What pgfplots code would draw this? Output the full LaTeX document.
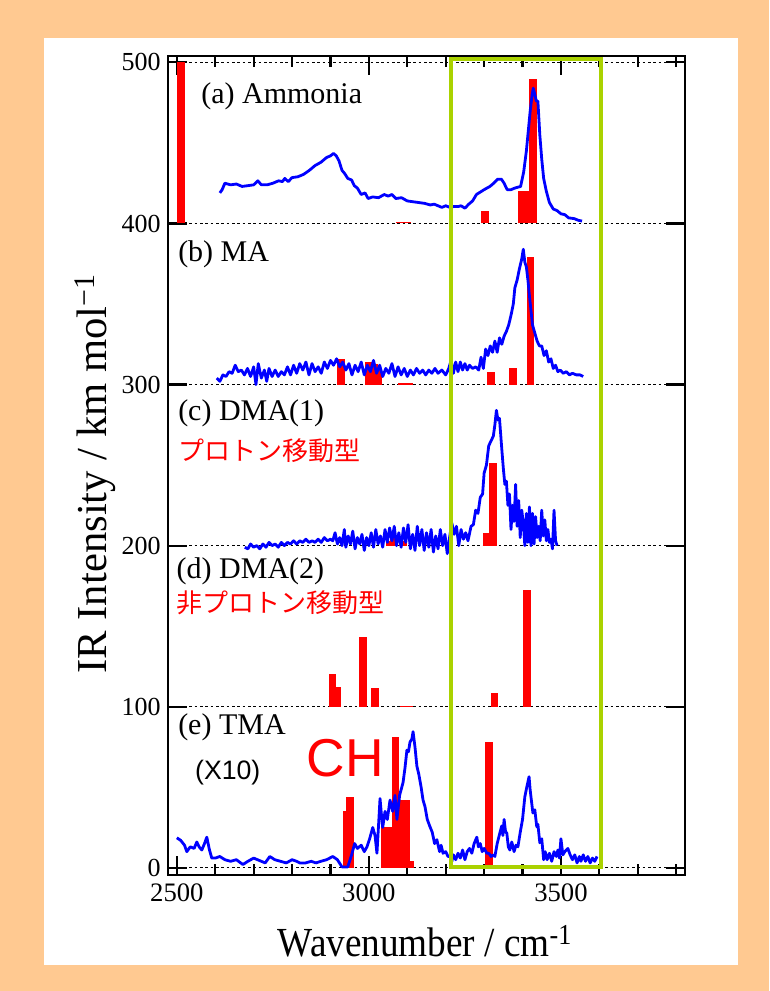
\documentclass[border=0pt]{standalone}
\usepackage{pgfplots}
\pgfplotsset{compat=1.18}
\usepackage{fontspec}
\setmainfont{Liberation Serif}
\newfontfamily\cjk{Noto Sans CJK JP}
\newfontfamily\sans{Liberation Sans}
\definecolor{bgorange}{RGB}{255,201,145}
\definecolor{boxgreen}{RGB}{170,210,0}
\pgfplotsset{
  calc bars/.style={draw=none, mark=none, forget plot,
    error bars/.cd, y dir=plus, y explicit, error mark=none,
    error bar style={draw=red, solid, line width=5.8pt}},
  expt/.style={blue, line width=2.1pt, mark=none, line join=round},
}
\begin{document}
\begin{tikzpicture}
\fill[bgorange] (0pt,0pt) rectangle (576.75pt,743.25pt);
\fill[white] (33pt,19.5pt) rectangle (553.5pt,714.75pt);
\begin{axis}[
  at={(126pt,87pt)}, anchor=south west, scale only axis,
  width=387.75pt, height=614.25pt,
  xmin=2477, xmax=3823, ymin=-4.5, ymax=504,
  xtick={2500,3000,3500},
  minor xtick={2600,2700,2800,2900,3100,3200,3300,3400,3600,3700,3800},
  ytick={0,100,200,300,400,500},
  tick align=inside, major tick length=14pt, minor tick length=8pt,
  axis line style={line width=2pt},
  tick style={draw=black, line width=1.6pt},
  ymajorgrids, grid style={black, line width=0.6pt, dash pattern=on 2pt off 2pt},
  yticklabel={\fontsize{19.5}{19.5}\selectfont\pgfmathprintnumber[assume math mode=true]{\tick}},
  xticklabel={\fontsize{20}{20}\selectfont\pgfmathprintnumber[assume math mode=true, set thousands separator={}]{\tick}},
  yticklabel style={xshift=-2pt},
  xticklabel style={yshift=-3pt},
  xlabel={\scalebox{0.9}[1]{Wavenumber / cm\textsuperscript{-1}}},
  xlabel style={at={(axis description cs:0.497,-0.099)}, anchor=base, font=\fontsize{31}{31}\selectfont},
  ylabel={IR Intensity / km mol\textsuperscript{−1}},
  ylabel style={at={(axis description cs:-0.141,0.49)}, anchor=center, font=\fontsize{32}{32}\selectfont},
]
% calculated bands (bars from each panel's baseline)
\addplot[calc bars] coordinates {
  (2510,400) +- (0,100) (3080,400) +- (0,1) (3100,400) +- (0,1)
  (3303,400) +- (0,7.5) (3398,400) +- (0,20) (3410,400) +- (0,20)
  (3428,400) +- (0,90)
};
\addplot[calc bars] coordinates {
  (2927,300) +- (0,16) (3000,300) +- (0,14) (3014,300) +- (0,13)
  (3024,300) +- (0,9) (3085,300) +- (0,1) (3105,300) +- (0,1)
  (3317,300) +- (0,7.5) (3375,300) +- (0,10.5) (3421,300) +- (0,79)
};
\addplot[calc bars] coordinates {
  (3055,200) +- (0,3) (3066,200) +- (0,5.5) (3088,200) +- (0,3)
  (3308,200) +- (0,8) (3323,200) +- (0,51)
};
\addplot[calc bars] coordinates {
  (2905,100) +- (0,20.5) (2917,100) +- (0,12.4) (2985,100) +- (0,43.5)
  (3015,100) +- (0,11.8) (3090,100) +- (0,0.6) (3105,100) +- (0,0.6)
  (3327,100) +- (0,8.7) (3412,100) +- (0,72.7)
};
\addplot[calc bars] coordinates {
  (2942,0) +- (0,35) (2950,0) +- (0,44) (3042,0) +- (0,25) (3055,0) +- (0,25)
  (3069,0) +- (0,81) (3088,0) +- (0,42) (3097,0) +- (0,42) (3108,0) +- (0,4)
  (3312,0) +- (0,78)
};
% (a) Ammonia
\addplot[expt] coordinates {
  (2612,419) (2618,421) (2625,425) (2640,424) (2655,424.5) (2670,423) (2685,423.5)
  (2700,424) (2711,426.5) (2720,424) (2735,424) (2750,425) (2765,426.5) (2775,426)
  (2781,428) (2790,426) (2800,428.5) (2815,429) (2830,430.5) (2845,433) (2860,436)
  (2875,438) (2890,441) (2900,442) (2908,443.5) (2915,442) (2922,439) (2930,433)
  (2937,431) (2945,428) (2955,427) (2962,423.5) (2970,422) (2980,418) (2990,419)
  (2998,415.5) (3010,416.5) (3025,416) (3040,418) (3050,417) (3060,418) (3070,415.5)
  (3085,416) (3100,414) (3115,413.5) (3130,413) (3145,412.5) (3160,411.5) (3170,412)
  (3180,411) (3190,410) (3200,411) (3211,410) (3220,410.5) (3232,410.5) (3240,411)
  (3250,409.5) (3260,412) (3270,414) (3280,418) (3290,419.5) (3300,421) (3315,423)
  (3325,425) (3335,427.5) (3345,427.5) (3352,425) (3360,421) (3370,421) (3380,422)
  (3395,423) (3403,432) (3410,445) (3416,460) (3420,470) (3425,480) (3428,484)
  (3432,480) (3436,476) (3440,476) (3445,455) (3450,440) (3455,428) (3462,420)
  (3470,413) (3480,409) (3490,408) (3500,406) (3510,405.5) (3520,403.5) (3535,403)
  (3545,402) (3555,401.5)
};
% (b) MA
\addplot[expt] coordinates {
  (2604,304) (2612,302) (2620,306) (2628,305) (2636,308) (2644,307) (2652,312)
  (2660,308) (2668,309) (2676,306) (2684,310) (2692,305) (2700,311) (2706,300)
  (2712,313) (2720,304) (2728,309) (2734,302) (2740,310) (2748,305) (2756,309)
  (2764,305) (2772,308) (2780,306) (2788,311) (2796,306) (2804,312) (2812,307)
  (2820,313) (2828,309) (2836,314) (2844,306) (2852,313) (2860,308) (2868,311)
  (2876,307) (2884,314) (2892,310) (2900,315) (2908,312) (2916,316) (2924,311)
  (2932,314) (2940,309) (2948,313) (2956,306) (2964,312) (2972,308) (2980,314)
  (2988,306) (2996,312) (3004,308) (3012,315) (3020,307) (3028,312) (3036,305)
  (3044,310) (3052,307) (3060,313) (3068,305) (3076,311) (3084,306) (3092,310)
  (3100,305) (3108,309) (3116,306) (3124,310) (3132,307) (3140,309) (3148,306)
  (3156,309) (3164,307) (3172,310) (3180,307) (3190,309) (3200,306) (3208,310)
  (3214,315) (3220,307) (3226,314) (3232,308) (3238,314) (3244,309) (3250,313)
  (3256,309) (3262,312) (3270,310) (3278,311) (3286,309) (3292,317) (3298,310)
  (3304,322) (3310,318) (3316,324) (3322,320) (3328,327) (3334,320) (3340,329)
  (3346,325) (3352,330) (3358,333) (3364,337) (3370,343) (3376,350) (3380,360)
  (3386,365) (3392,372) (3398,378) (3402,384) (3406,376) (3410,373) (3414,365)
  (3418,355) (3422,346) (3426,337) (3432,332) (3438,327) (3444,324) (3450,324)
  (3456,318) (3462,321) (3468,314) (3474,316) (3480,310) (3486,312) (3492,308)
  (3498,309) (3506,307) (3514,308) (3522,306) (3530,307) (3540,306) (3550,306)
  (3558,305)
};
% (c) DMA(1)
\addplot[expt] coordinates {
  (2677,199) (2685,198) (2692,201) (2700,199) (2708,200) (2716,198) (2724,201)
  (2732,199) (2740,202) (2748,200) (2756,201) (2764,199) (2772,202) (2780,200)
  (2788,202) (2796,201) (2804,203) (2812,201) (2820,203) (2828,202) (2836,204)
  (2844,202) (2852,203) (2860,202) (2868,204) (2876,202) (2884,205) (2892,203)
  (2900,204) (2906,203) (2912,208) (2918,201) (2924,205) (2930,200) (2936,210)
  (2940,199) (2946,206) (2952,201) (2958,209) (2964,198) (2970,205) (2976,201)
  (2982,207) (2988,197) (2994,205) (3000,200) (3006,208) (3012,199) (3018,210)
  (3024,201) (3030,206) (3036,199) (3042,210) (3048,202) (3054,211) (3060,203)
  (3066,212) (3072,200) (3078,208) (3084,199) (3090,211) (3096,202) (3102,213)
  (3108,198) (3114,207) (3120,197) (3126,212) (3132,200) (3138,210) (3144,197)
  (3150,208) (3156,199) (3162,210) (3168,196) (3174,206) (3180,198) (3186,210)
  (3192,200) (3198,207) (3204,195) (3210,205) (3216,214) (3222,207) (3228,212)
  (3234,200) (3240,210) (3246,204) (3252,208) (3258,203) (3266,212) (3272,213)
  (3278,222) (3284,220) (3290,230) (3296,232) (3300,245) (3306,250) (3312,262)
  (3318,265) (3324,268) (3328,275) (3332,284) (3336,278) (3340,279) (3346,260)
  (3350,248) (3354,238) (3358,240) (3362,225) (3366,232) (3370,210) (3374,225)
  (3378,215) (3382,238) (3386,212) (3390,228) (3394,205) (3398,222) (3402,214)
  (3406,200) (3410,220) (3414,202) (3418,224) (3422,200) (3426,220) (3430,201)
  (3434,218) (3438,205) (3442,212) (3446,203) (3450,222) (3454,206) (3458,216)
  (3462,203) (3466,210) (3470,202) (3474,204) (3478,198) (3482,222) (3486,203)
  (3490,200)
};
% (e) TMA (x10)
\addplot[expt] coordinates {
  (2500,18.6) (2510,17) (2520,14) (2526,10) (2535,13) (2545,12) (2552,16)
  (2558,13) (2565,11) (2572,15) (2578,19) (2585,11) (2591,6) (2600,6) (2612,7)
  (2625,5) (2640,4) (2655,5) (2672,2) (2685,4) (2700,6) (2710,5) (2720,4)
  (2730,3) (2742,7) (2755,5) (2770,4) (2785,3) (2800,5) (2812,4) (2820,3)
  (2835,3) (2850,4) (2862,3) (2875,4) (2890,5) (2906,7) (2918,5) (2930,0.5)
  (2945,0.5) (2955,8) (2963,15) (2970,12) (2980,14) (2988,10) (2995,13)
  (3002,18) (3010,25) (3016,20) (3021,9) (3026,30) (3029,43) (3033,32) (3036,25)
  (3042,35) (3048,30) (3055,42) (3062,35) (3068,45) (3073,30) (3080,45) (3089,53)
  (3094,62) (3099,73) (3103,72) (3107,78) (3112,80) (3115,84.5) (3120,75)
  (3125,63) (3130,58) (3136,50) (3141,42) (3146,38) (3152,30) (3159,25.5)
  (3165,22) (3171,15) (3177,17.4) (3184,10) (3188,14) (3193,9) (3200,10)
  (3206,7) (3211,7) (3216,4) (3220,8) (3226,5) (3232,9) (3238,6) (3244,11)
  (3250,5) (3256,10) (3262,12) (3268,9) (3274,15) (3281,19) (3285,13) (3290,15)
  (3295,10) (3300,12) (3307,9) (3312,9) (3318,7) (3323,8) (3328,7) (3334,15)
  (3341,21.7) (3346,26) (3349,20) (3352,30) (3356,22) (3359,21.7) (3363,13)
  (3367,11) (3372,16) (3378,10) (3383,14) (3388,13) (3394,22) (3400,30)
  (3406,44) (3411,50) (3417,56.5) (3420,48) (3427,34) (3432,36) (3437,25.5)
  (3440,27) (3445,15.5) (3450,18) (3455,5) (3459,10) (3464,5) (3470,9) (3476,4)
  (3482,10) (3488,7) (3492,11) (3496,6) (3500,18) (3505,8) (3510,10) (3518,12)
  (3524,8) (3530,5) (3536,8) (3542,3) (3548,7) (3552,4) (3558,8) (3564,4)
  (3570,7) (3576,3) (3582,6) (3588,4) (3594,7)
};
% highlighted N-H region
\addplot[boxgreen, line width=3pt, line cap=rect, line join=miter, mark=none] coordinates {
  (3215,0.5) (3605,0.5) (3605,502) (3215,502) (3215,0.5)
};
\begin{scope}[every node/.style={anchor=west, inner sep=0pt}]
\node[font=\fontsize{22.5}{22.5}\selectfont] at (axis cs:2563,479) {(a) Ammonia};
\node[font=\fontsize{22.5}{22.5}\selectfont] at (axis cs:2503,381) {(b) MA};
\node[font=\fontsize{22.5}{22.5}\selectfont] at (axis cs:2503,282) {(c) DMA(1)};
\node[font=\cjk\fontsize{19.5}{19.5}\selectfont, text=red] at (axis cs:2503,259) {プロトン移動型};
\node[font=\fontsize{22.5}{22.5}\selectfont] at (axis cs:2499,184) {(d) DMA(2)};
\node[font=\cjk\fontsize{19.5}{19.5}\selectfont, text=red] at (axis cs:2499,164.5) {非プロトン移動型};
\node[font=\fontsize{22.5}{22.5}\selectfont] at (axis cs:2503,87) {(e) TMA};
\node[font=\sans\fontsize{20}{20}\selectfont] at (axis cs:2547,59) {(X10)};
\node[font=\sans\fontsize{40}{40}\selectfont, text=red] at (axis cs:2838,68) {CH};
\end{scope}
\end{axis}
\end{tikzpicture}
\end{document}
